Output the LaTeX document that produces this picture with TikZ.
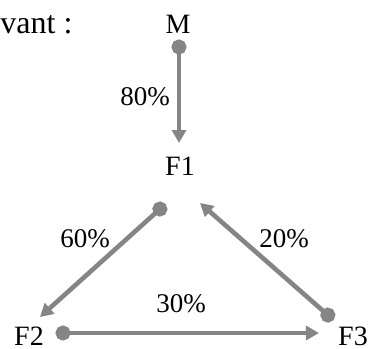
\documentclass[tikz,border=0pt]{standalone}
\usepackage{fontspec}
\setmainfont{Liberation Serif}
\usetikzlibrary{arrows.meta}
\definecolor{flowgray}{HTML}{858585}
\begin{document}
\begin{tikzpicture}[x=0.5pt, y=-0.5pt,
  every node/.style={inner sep=0pt},
  place/.style={font=\fontsize{14}{16}\selectfont},
  pct/.style={font=\fontsize{13.5}{16}\selectfont},
  flow/.style={draw=flowgray, line width=2.3pt,
    {Circle[length=7.5pt]}-{Triangle[length=6.5pt, width=7pt]}}]
  \useasboundingbox (0,0) rectangle (371,349);
  \node[anchor=base west, font=\fontsize{16}{19}\selectfont] (intro) at (0,33) {vant :};
  % places
  \node[place] (M) at (178,24) {M};
  \node[place] (F1) at (180,166) {F1};
  \node[place] (F2) at (29,336) {F2};
  \node[place] (F3) at (353,336) {F3};
  % ends of the arrows
  \coordinate (M-out) at (179,39.5);
  \coordinate (F1-out) at (165.5,204);
  \coordinate (F1-in) at (179,143);
  \coordinate (F1-back) at (200,203);
  \coordinate (F2-in) at (40,317);
  \coordinate (F2-out) at (55.5,333);
  \coordinate (F3-in) at (319,333);
  \coordinate (F3-out) at (333.5,320);
  \draw[flow] (M-out) -- (F1-in);
  \draw[flow] (F1-out) -- (F2-in);
  \draw[flow] (F2-out) -- (F3-in);
  \draw[flow] (F3-out) -- (F1-back);
  % shares
  \node[pct] (p80) at (145,97) {80\%};
  \node[pct] (p60) at (85,239) {60\%};
  \node[pct] (p20) at (284,239) {20\%};
  \node[pct] (p30) at (181,304) {30\%};
\end{tikzpicture}
\end{document}
